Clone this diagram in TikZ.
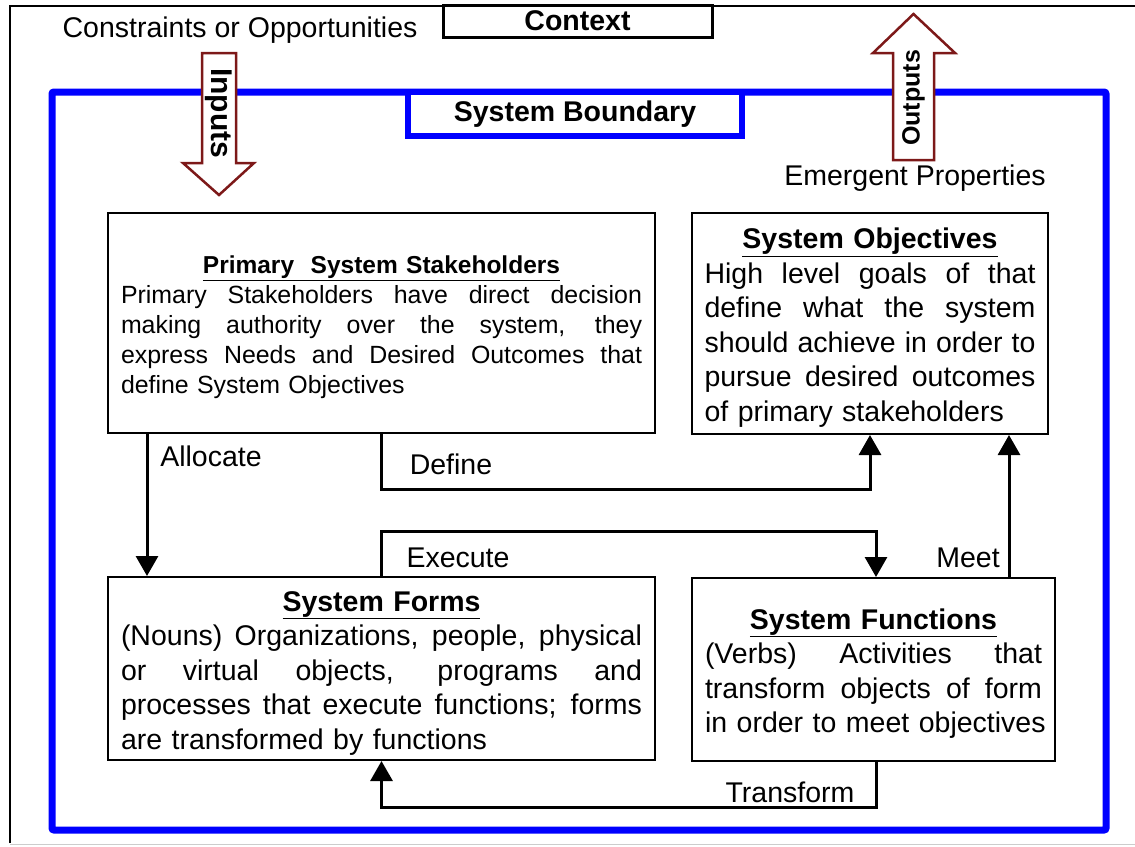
\documentclass[tikz,border=0pt]{standalone}
\usepackage{fontspec}
\setmainfont{Liberation Sans}
\usepackage{tikz}
\usetikzlibrary{arrows.meta,positioning}
\definecolor{ioRed}{RGB}{125,25,25}
\definecolor{bndBlue}{RGB}{0,0,255}
\newcommand{\bodyfont}{\fontsize{28.5}{34.5}\selectfont}
\newcommand{\smallbody}{\fontsize{24.9}{30}\selectfont}
\newcommand{\fl}[1]{{\spaceskip=0.278em plus 20em\makebox[\hsize][s]{#1}}}
\newcommand{\lastline}[1]{\makebox[\hsize][l]{#1}}
\tikzset{
  box/.style     = {draw, line width=2pt, fill=white, inner sep=0pt, align=center, font=\bodyfont},
  ctxbox/.style  = {draw, line width=3pt, fill=white, inner sep=0pt, font=\bodyfont\bfseries},
  bndbox/.style  = {draw=bndBlue, line width=6pt, fill=white, inner sep=0pt, font=\bodyfont\bfseries},
  conn/.style    = {-{Triangle[length=20pt,width=22pt]}, line width=3pt},
  lbl/.style     = {font=\bodyfont, inner sep=1pt},
  ioarrow/.style = {draw=ioRed, fill=white, line width=2.5pt, line join=miter},
  iotext/.style  = {font=\bodyfont\bfseries, inner sep=0pt}
}

\begin{document}
\begin{tikzpicture}[x=1pt, y=-1pt]
\useasboundingbox (0,0) rectangle (1135,846);
% ---- context frame ----
\draw[line width=2pt] (10,843) -- (10,6) -- (1140,6);
\draw[line width=1pt, black!20] (10,844) -- (1140,844);
\node[ctxbox, minimum width=269pt, minimum height=32pt] (ctx) at (577.5,21) {Context};
\node[lbl] (constr) at (240,30) {Constraints or Opportunities};

% ---- system boundary ----
\draw[draw=bndBlue, line width=7pt, rounded corners=2pt] (52,92) rectangle (1106,830);
\node[bndbox, minimum width=334pt, minimum height=44pt] (bnd) at (575,114) {System Boundary};

% ---- inputs / outputs ----
\draw[ioarrow] (202,53) -- (236,53) -- (236,163) -- (254,163) -- (219,195)
  -- (183,163) -- (202,163) -- cycle;
\node[iotext, rotate=-90, font=\fontsize{30}{30}\selectfont\bfseries] (inp) at (219,113) {Inputs};
\draw[ioarrow] (893,160) -- (934,160) -- (934,53) -- (955,53) -- (913.5,14)
  -- (873,53) -- (893,53) -- cycle;
\node[iotext, rotate=90, font=\fontsize{25}{25}\selectfont\bfseries] (outp) at (913.5,98) {Outputs};
\node[lbl] (emerg) at (915,178) {Emergent Properties};

% ---- boxes ----
\node[box, minimum width=547pt, minimum height=220pt, text width=521pt, font=\smallbody] (pss) at (381.5,323)
  {{\fontsize{24.5}{31}\selectfont\rule{0pt}{26.5pt}\underline{\textbf{Primary\ \ System Stakeholders}}}\\
   \fl{Primary Stakeholders have direct decision}\\
   \fl{making authority over the system, they}\\
   \fl{express Needs and Desired Outcomes that}\\
   \lastline{define System Objectives}};
\node[box, minimum width=356pt, minimum height=221pt, text width=331pt] (so) at (870,323.5)
  {\rule{0pt}{29pt}\underline{\textbf{System Objectives}}\\
   \fl{High level goals of that}\\
   \fl{define what the system}\\
   \fl{should achieve in order to}\\
   \fl{pursue desired outcomes}\\
   \lastline{of primary stakeholders}};
\node[box, minimum width=547pt, minimum height=183pt, text width=521pt] (sf) at (381.5,668.5)
  {\rule{0pt}{29pt}\underline{\textbf{System Forms}}\\
   \fl{(Nouns) Organizations, people, physical}\\
   \fl{or virtual objects, programs and}\\
   \fl{processes that execute functions; forms}\\
   \lastline{are transformed by functions}};
\node[box, minimum width=363pt, minimum height=183pt, text width=337pt] (sfn) at (873.5,669.5)
  {\rule{0pt}{29pt}\underline{\textbf{System Functions}}\\
   \fl{(Verbs) Activities that}\\
   \fl{transform objects of form}\\
   \lastline{in order to meet objectives}};

% ---- connectors ----
\draw[conn] ([xshift=40pt]pss.south west) -- ([xshift=40pt]sf.north west);
\draw[conn] (pss.south) -- ++(0,55) -| (so.south);
\draw[conn] (sf.north) -- ++(0,-45) -| ([xshift=2.5pt]sfn.north);
\draw[conn] ([xshift=-47pt]sfn.north east) -- ([xshift=-40pt]so.south east);
\draw[conn] ([xshift=2.5pt]sfn.south) -- ++(0,45) -| (sf.south);

\node[lbl] (lalloc) at (211,456) {Allocate};
\node[lbl] (ldef) at (451,464) {Define};
\node[lbl] (lexec) at (458,558) {Execute};
\node[lbl] (lmeet) at (968,558) {Meet};
\node[lbl] (ltrans) at (790,792) {Transform};
\end{tikzpicture}
\end{document}
